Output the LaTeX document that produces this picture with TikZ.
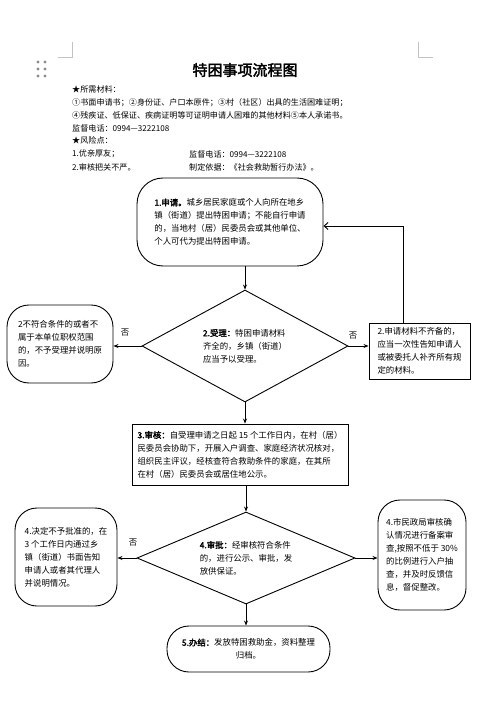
\documentclass[tikz,border=0pt]{standalone}
\usepackage{fontspec}
\setmainfont{Noto Sans CJK SC}[AutoFakeBold=2.5]
\usetikzlibrary{shapes.geometric,arrows.meta,calc}
\definecolor{handlecol}{RGB}{140,140,140}
\definecolor{markcol}{RGB}{195,195,195}

\begin{document}
\begin{tikzpicture}[x=1pt,y=-1pt,
  txt/.style={font=\fontsize{8.4}{13}\selectfont, align=left, inner sep=0pt},
  hdr/.style={font=\fontsize{8.1}{10}\selectfont, anchor=west, inner sep=0pt},
  roundbox/.style={draw, line width=0.9pt, rounded corners=#1, txt},
  plainbox/.style={draw, line width=0.9pt, txt},
  decide/.style={draw, line width=0.9pt, shape=diamond, aspect=2, txt},
  flow/.style={line width=0.9pt, -{Stealth[length=5pt,width=4pt]}},
  back/.style={line width=0.9pt, -{Straight Barb[length=4pt,width=7pt]}},
  no/.style={font=\fontsize{8.4}{10}\selectfont, inner sep=0pt}]
  \useasboundingbox (0,0) rectangle (493,708);

  % page corner marks and handle
  \draw[markcol, line width=0.6pt] (58,57) -- (72,57) -- (72,42);
  \draw[markcol, line width=0.6pt] (433,57) -- (418,57) -- (418,42);
  \foreach \hx in {38,45}
    \foreach \hy in {62,69,76}
      \fill[handlecol] (\hx,\hy) circle (1.7);

  % title and notes
  \node[font=\fontsize{15}{18}\selectfont\bfseries, inner sep=0pt] (title) at (245,70) {特困事项流程图};
  \foreach \y/\t [count=\n] in {
    89/{★所需材料：},
    102.7/{①书面申请书；②身份证、户口本原件；③村（社区）出具的生活困难证明；},
    115.7/{④残疾证、低保证、疾病证明等可证明申请人困难的其他材料⑤本人承诺书。},
    128.7/{监督电话：0994—3222108},
    140.7/{★风险点：},
    154/{1.优亲厚友；},
    167.3/{2.审核把关不严。}}{
    \node[hdr] (note\n) at (72,\y) {\t};
  }
  \node[hdr] (phone) at (189,154) {监督电话：0994—3222108};
  \node[hdr] (basis) at (189,167.3) {制定依据：《社会救助暂行办法》。};

  % flow boxes
  \node[roundbox=26, minimum width=186pt, minimum height=88pt] (b1) at (230,222)
    {\textbf{1.申请。}城乡居民家庭或个人向所在地乡\\镇（街道）提出特困申请；不能自行申请\\的，当地村（居）民委员会或其他单位、\\个人可代为提出特困申请。};
  \node[decide, minimum width=206pt, minimum height=112pt] (d1) at (245,346)
    {\textbf{2.受理：}特困申请材料\\齐全的，乡镇（街道）\\应当予以受理。};
  \node[roundbox=22, minimum width=106pt, minimum height=78pt] (lb2) at (60,344)
    {2不符合条件的或者不\\属于本单位职权范围\\的，不予受理并说明原\\因。};
  \node[plainbox, minimum width=101pt, minimum height=56pt] (rb2) at (419.5,351)
    {2.申请材料不齐备的，\\应当一次性告知申请人\\或被委托人补齐所有规\\定的材料。};
  \node[plainbox, minimum width=216pt, minimum height=61pt] (b3) at (240,454.5)
    {\textbf{3.审核：}自受理申请之日起 15 个工作日内，在村（居）\\民委员会协助下，开展入户调查、家庭经济状况核对，\\组织民主评议，经核查符合救助条件的家庭，在其所\\在村（居）民委员会或居住地公示。};
  \node[decide, minimum width=218pt, minimum height=92pt] (d2) at (246,558)
    {\textbf{4.审批：}经审核符合条件\\的，进行公示、审批，发\\放供保证。};
  \node[roundbox=22, minimum width=102pt, minimum height=98pt] (lb4) at (66,557)
    {4.决定不予批准的，在\\3 个工作日内通过乡\\镇（街道）书面告知\\申请人或者其代理人\\并说明情况。};
  \node[roundbox=22, minimum width=88pt, minimum height=110pt] (rb4) at (422,555)
    {4.市民政局审核确\\认情况进行备案审\\查,按照不低于 30\%\\的比例进行入户抽\\查，并及时反馈信\\息，督促整改。};
  \node[roundbox=22, minimum width=163pt, minimum height=46pt, align=center] (b5) at (248.5,649)
    {\textbf{5.办结：}发放特困救助金，资料整理\\归档。};

  % connectors
  \coordinate (loop) at (403,226);
  \draw[flow] (b1.south -| d1.north) -- (d1.north);
  \draw[flow] (d1.west) -- (d1.west -| lb2.east);
  \node[no] (no1) at (125,333) {否};
  \draw[flow] (d1.east) -- (d1.east -| rb2.west);
  \node[no] (no2) at (353,336) {否};
  \draw[back] (rb2.north -| loop) -- (loop) -- (loop -| b1.east);
  \draw[flow] (d1.south) -- (d1.south |- b3.north);
  \draw[flow] (d2.north |- b3.south) -- (d2.north);
  \draw[flow] (d2.west) -- (d2.west -| lb4.east);
  \node[no] (no3) at (133,543) {否};
  \draw[flow] (d2.east) -- (d2.east -| rb4.west);
  \draw[flow] (d2.south) -- (d2.south |- b5.north);
\end{tikzpicture}
\end{document}
